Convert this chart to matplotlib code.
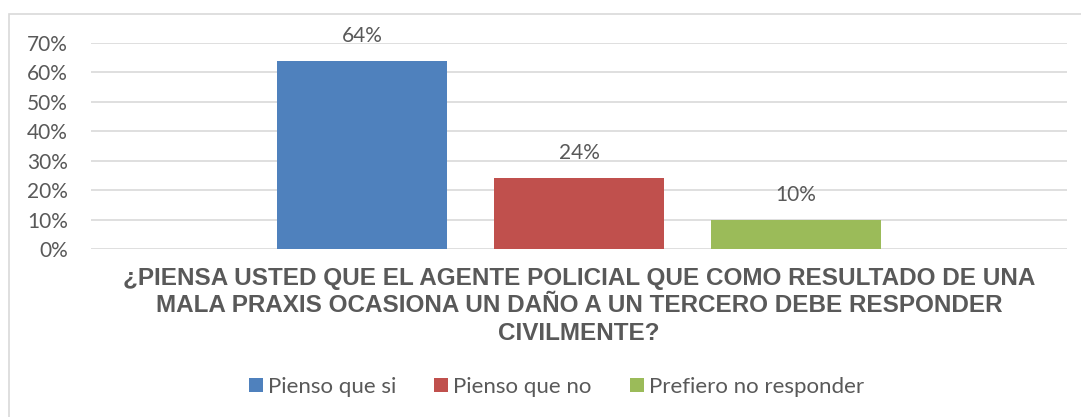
import matplotlib
matplotlib.use("Agg")
import matplotlib.pyplot as plt
from matplotlib.patches import Rectangle, Patch

categories = ["Pienso que si", "Pienso que no", "Prefiero no responder"]
values = [0.64, 0.24, 0.10]
labels = ["64%", "24%", "10%"]
colors = ["#4F81BD", "#C0504D", "#9BBB59"]
yticks = [0, 0.1, 0.2, 0.3, 0.4, 0.5, 0.6, 0.7]
ytick_labels = ["0%", "10%", "20%", "30%", "40%", "50%", "60%", "70%"]
title = ("¿PIENSA USTED QUE EL AGENTE POLICIAL QUE COMO RESULTADO DE UNA\n"
         "MALA PRAXIS OCASIONA UN DAÑO A UN TERCERO DEBE RESPONDER\n"
         "CIVILMENTE?")

W, H = 1081, 417
fig = plt.figure(figsize=(W / 100, H / 100), dpi=100)
fig.patch.set_facecolor("white")

# outer chart frame (extends beyond image at right/bottom)
fig.patches.append(Rectangle((9 / W, -0.1), 1.2, (H - 14) / H + 0.1,
                             transform=fig.transFigure, fill=False,
                             edgecolor="#D9D9D9", linewidth=1.2))

gray = "#595959"
ax = fig.add_axes([91 / W, (H - 249) / H, (1067 - 91) / W, (249 - 43) / H])
x = list(range(len(values)))
bars = ax.bar(x, values, width=0.785, color=colors, zorder=3)
ax.set_xlim(-1.252, 3.252)
ax.set_ylim(0, 0.7)
ax.set_yticks(yticks)
ax.set_yticklabels(ytick_labels, fontfamily="Lato", fontsize=15, color=gray)
ax.set_xticks([])
ax.tick_params(axis="y", length=0, pad=16.5)
for s in ax.spines.values():
    s.set_visible(False)
ax.grid(axis="y", color="#D9D9D9", linewidth=1.2, zorder=0)
ax.set_axisbelow(True)

for xi, v, lab in zip(x, values, labels):
    ax.annotate(lab, (xi, v), xytext=(0, 18), textcoords="offset points",
                ha="center", va="center", fontfamily="Lato", fontsize=15,
                color=gray)

fig.text(579 / W, 1 - 306 / H, title, ha="center", va="center",
         fontfamily="Liberation Sans", fontweight="bold", fontsize=17.5,
         color=gray, linespacing=1.26)

handles = [Patch(facecolor=c, edgecolor="none") for c in colors]
leg = fig.legend(handles, categories, loc="center", ncol=3,
                 bbox_to_anchor=(556.5 / W, 1 - 387 / H), frameon=False,
                 prop={"family": "Lato", "size": 16}, handlelength=0.63,
                 handleheight=0.63, handletextpad=0.23, columnspacing=1.7,
                 borderpad=0, borderaxespad=0)
for t in leg.get_texts():
    t.set_color(gray)

fig.savefig("out.png", dpi=100)
